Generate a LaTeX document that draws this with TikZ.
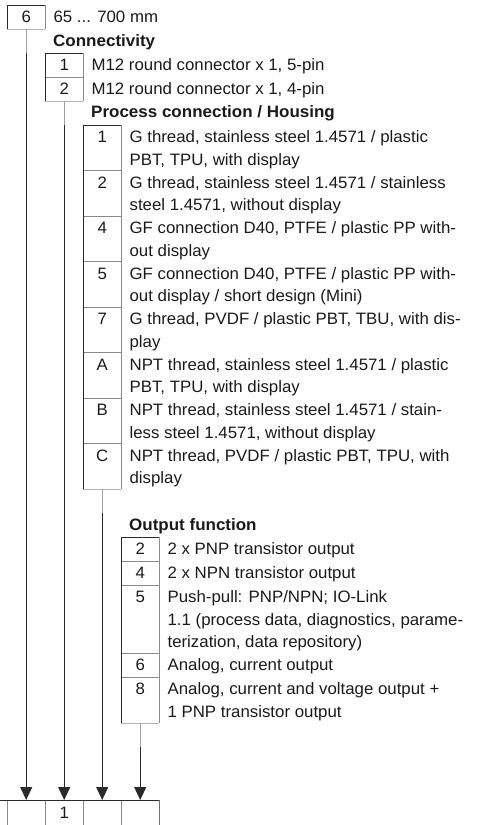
\documentclass[tikz,border=0pt]{standalone}
\usepackage{fontspec}
\setmainfont{Liberation Sans}[FakeStretch=1.02]
\newfontfamily\headfont{Liberation Sans Bold}[FakeStretch=1.03]
\usetikzlibrary{arrows.meta,calc}
\definecolor{ink}{HTML}{1A1A1A}
\definecolor{edgec}{HTML}{2A2A2A}
\definecolor{sepc}{HTML}{8A8A8A}
\definecolor{lowc}{HTML}{B5B5B5}
\definecolor{stubc}{HTML}{A0A0A0}
\begin{document}
\begin{tikzpicture}[x=1pt,y=-1pt,
  txt/.style={anchor=base west, inner sep=0pt, font=\fontsize{16.5}{22}\selectfont, text=ink},
  head/.style={anchor=base west, inner sep=0pt, font=\fontsize{16.5}{22}\selectfont\headfont, text=ink},
  key/.style={anchor=base, inner sep=0pt, font=\fontsize{16.5}{22}\selectfont, text=ink},
  cell/.style={draw=none, inner sep=0pt, minimum width=38pt, anchor=north west},
  edgeline/.style={draw=edgec, line width=1pt},
  sepline/.style={draw=sepc, line width=0.8pt},
  lowline/.style={draw=lowc, line width=1pt},
  stubline/.style={draw=stubc, line width=1pt},
  arrowline/.style={draw=edgec, line width=1pt, -{Triangle[width=12pt,length=13pt]}}]
\useasboundingbox (0,0) rectangle (480,825);

% ---- box 6 ----
\node[cell, minimum height=24pt] (k6) at (7,5) {};
\node[key] (k6t) at ($(k6.north)+(0,17.5)$) {6};
\node[txt] (k6d) at ($(k6.north east)+(8,17.5)$) {65 ... 700 mm};
\draw[sepline] (k6.north east) -- (k6.south east);
\draw[lowline] (k6.south west) -- (k6.south east);
\draw[edgeline] (k6.south west) -- (k6.north west) -- (k6.north east);

% ---- Connectivity ----
\node[head] (hconn) at (53,46) {Connectivity};
\node[cell, minimum height=24pt] (c1) at (45,53) {};
\node[cell, minimum height=24pt] (c2) at (45,77) {};
\node[key] (c1t) at ($(c1.north)+(0,17.5)$) {1};
\node[key] (c2t) at ($(c2.north)+(0,17.5)$) {2};
\node[txt] (c1d) at ($(c1.north east)+(8,17.5)$) {M12 round connector x 1, 5-pin};
\node[txt] (c2d) at ($(c2.north east)+(8,17.5)$) {M12 round connector x 1, 4-pin};
\draw[sepline] (c2.north west) -- (c2.north east);
\draw[sepline] (c1.north east) -- (c2.south east);
\draw[lowline] (c2.south west) -- (c2.south east);
\draw[edgeline] (c2.south west) -- (c1.north west) -- (c1.north east);

% ---- Process connection / Housing ----
\node[head] (hproc) at (91,117) {Process connection / Housing};
\node[cell, minimum height=45.5pt] (p1) at (83,125) {};
\node[cell, minimum height=45.5pt] (p2) at (83,170.5) {};
\node[cell, minimum height=45.5pt] (p4) at (83,216) {};
\node[cell, minimum height=45.5pt] (p5) at (83,261.5) {};
\node[cell, minimum height=45.5pt] (p7) at (83,307) {};
\node[cell, minimum height=45.5pt] (pA) at (83,352.5) {};
\node[cell, minimum height=45.5pt] (pB) at (83,398) {};
\node[cell, minimum height=45.5pt] (pC) at (83,443.5) {};
\foreach \c/\k in {p1/1,p2/2,p4/4,p5/5,p7/7,pA/A,pB/B,pC/C}
  \node[key] (\c t) at ($(\c.north)+(0,17.5)$) {\k};
\node[txt] (p1a) at ($(p1.north east)+(8,17.5)$) {G thread, stainless steel 1.4571 / plastic};
\node[txt] (p1b) at ($(p1.north east)+(8,40)$) {PBT, TPU, with display};
\node[txt] (p2a) at ($(p2.north east)+(8,17.5)$) {G thread, stainless steel 1.4571 / stainless};
\node[txt] (p2b) at ($(p2.north east)+(8,40)$) {steel 1.4571, without display};
\node[txt] (p4a) at ($(p4.north east)+(8,17.5)$) {GF connection D40, PTFE / plastic PP with-};
\node[txt] (p4b) at ($(p4.north east)+(8,40)$) {out display};
\node[txt] (p5a) at ($(p5.north east)+(8,17.5)$) {GF connection D40, PTFE / plastic PP with-};
\node[txt] (p5b) at ($(p5.north east)+(8,40)$) {out display / short design (Mini)};
\node[txt] (p7a) at ($(p7.north east)+(8,17.5)$) {G thread, PVDF / plastic PBT, TBU, with dis-};
\node[txt] (p7b) at ($(p7.north east)+(8,40)$) {play};
\node[txt] (pAa) at ($(pA.north east)+(8,17.5)$) {NPT thread, stainless steel 1.4571 / plastic};
\node[txt] (pAb) at ($(pA.north east)+(8,40)$) {PBT, TPU, with display};
\node[txt] (pBa) at ($(pB.north east)+(8,17.5)$) {NPT thread, stainless steel 1.4571 / stain-};
\node[txt] (pBb) at ($(pB.north east)+(8,40)$) {less steel 1.4571, without display};
\node[txt] (pCa) at ($(pC.north east)+(8,17.5)$) {NPT thread, PVDF / plastic PBT, TPU, with};
\node[txt] (pCb) at ($(pC.north east)+(8,40)$) {display};
\foreach \c in {p2,p4,p5,p7,pA,pB,pC}
  \draw[sepline] (\c.north west) -- (\c.north east);
\draw[sepline] (p1.north east) -- (pC.south east);
\draw[lowline] (pC.south west) -- (pC.south east);
\draw[edgeline] (pC.south west) -- (p1.north west) -- (p1.north east);

% ---- Output function ----
\node[head] (hout) at (129,530) {Output function};
\node[cell, minimum height=24pt] (o2) at (121,537) {};
\node[cell, minimum height=24pt] (o4) at (121,561) {};
\node[cell, minimum height=68pt] (o5) at (121,585) {};
\node[cell, minimum height=24pt] (o6) at (121,653) {};
\node[cell, minimum height=46pt] (o8) at (121,677) {};
\foreach \c/\k in {o2/2,o4/4,o5/5,o6/6,o8/8}
  \node[key] (\c t) at ($(\c.north)+(0,17.5)$) {\k};
\node[txt] (o2a) at ($(o2.north east)+(8,17.5)$) {2 x PNP transistor output};
\node[txt] (o4a) at ($(o4.north east)+(8,17.5)$) {2 x NPN transistor output};
\node[txt] (o5a) at ($(o5.north east)+(8,17.5)$) {Push-pull: PNP/NPN; IO-Link};
\node[txt] (o5b) at ($(o5.north east)+(8,40)$) {1.1 (process data, diagnostics, parame-};
\node[txt] (o5c) at ($(o5.north east)+(8,62.5)$) {terization, data repository)};
\node[txt] (o6a) at ($(o6.north east)+(8,17.5)$) {Analog, current output};
\node[txt] (o8a) at ($(o8.north east)+(8,17.5)$) {Analog, current and voltage output +};
\node[txt] (o8b) at ($(o8.north east)+(8,40)$) {1 PNP transistor output};
\foreach \c in {o4,o5,o6,o8}
  \draw[sepline] (\c.north west) -- (\c.north east);
\draw[sepline] (o2.north east) -- (o8.south east);
\draw[lowline] (o8.south west) -- (o8.south east);
\draw[edgeline] (o8.south west) -- (o2.north west) -- (o2.north east);

% ---- bottom row ----
\node[cell, minimum height=25pt] (b1) at (7,800) {};
\node[cell, minimum height=25pt] (b2) at (45,800) {};
\node[cell, minimum height=25pt] (b3) at (83,800) {};
\node[cell, minimum height=25pt] (b4) at (121,800) {};
\node[key] (b2t) at ($(b2.north)+(0,18.5)$) {1};
\coordinate (bl) at (0,800);
\foreach \c in {b1,b2,b3,b4}
  \draw[sepline] (\c.north west) -- (\c.south west);
\draw[draw=sepc!80!black, line width=1pt] (b4.north east) -- (b4.south east);
\draw[edgeline] (bl) -- (b4.north east);

% ---- connectors ----
\draw[stubline] (k6.south) -- ++(0,24) coordinate (k6s);
\draw[arrowline] (k6s) -- (b1.north);
\draw[stubline] (c2.south) -- ++(0,24) coordinate (c2s);
\draw[arrowline] (c2s) -- (b2.north);
\draw[stubline] (pC.south) -- ++(0,24) coordinate (pCs);
\draw[arrowline] (pCs) -- (b3.north);
\draw[stubline] (o8.south) -- ++(0,24) coordinate (o8s);
\draw[arrowline] (o8s) -- (b4.north);
\end{tikzpicture}
\end{document}
